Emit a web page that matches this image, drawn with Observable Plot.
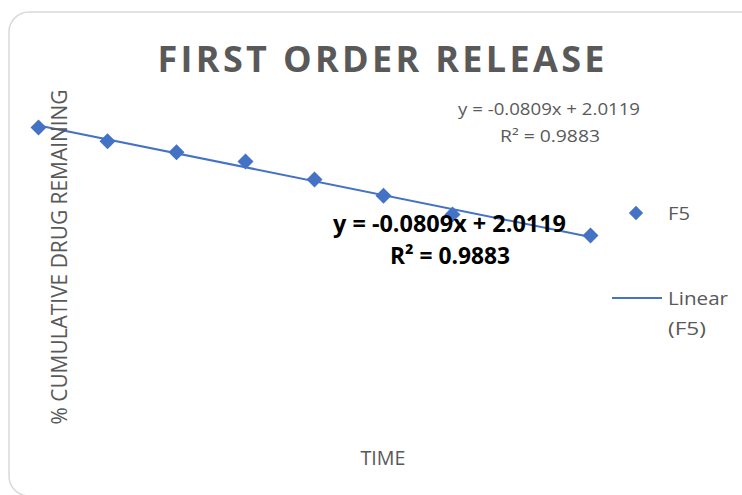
<!DOCTYPE html>
<html>
<head>
<meta charset="utf-8">
<script src="https://cdn.jsdelivr.net/npm/d3@7"></script>
<script src="https://cdn.jsdelivr.net/npm/@observablehq/plot@0.6"></script>
<style>
  html, body { margin: 0; padding: 0; background: #fff; }
  #chart { width: 742px; height: 495px; overflow: hidden; }
</style>
</head>
<body>
<div id="chart"></div>
<script>
// ---- data ----
const times = [0, 1, 2, 3, 4, 5, 6, 8];
const logRemaining = [2.0, 1.92, 1.855, 1.80, 1.695, 1.60, 1.49, 1.367];
const seriesName = "F5";
const trendName = "Linear (F5)";
const title = "FIRST ORDER RELEASE";
const xLabel = "TIME";
const yLabel = "% CUMULATIVE DRUG REMAINING";
const equationText = "y = -0.0809x + 2.0119";
const r2Text = "R² = 0.9883";

const data = times.map((t, i) => ({time: t, value: logRemaining[i]}));
const blue = "#4472C4";
const gray = "#595959";
const font = "'Open Sans', sans-serif";

const svg = Plot.plot({
  width: 742,
  height: 495,
  margin: 0,
  style: {background: "transparent", fontFamily: font},
  x: {domain: [0, 8], range: [38, 590], axis: null},
  y: {domain: [2.0119, 1.3647], range: [124.95, 235.4], axis: null},
  marks: [
    Plot.dot(data, {x: "time", y: "value", symbol: "diamond2", fill: blue, stroke: "none", r: 7.2}),
    Plot.linearRegressionY(data, {x: "time", y: "value", ci: 0, stroke: blue, strokeWidth: 2})
  ]
});

const s = d3.select(svg);
// chart border
s.insert("rect", ":first-child")
  .attr("x", 9).attr("y", 12).attr("width", 760).attr("height", 484)
  .attr("rx", 20).attr("fill", "#fff").attr("stroke", "#d9d9d9").attr("stroke-width", 1.5);

function txt(str, x, y, opts = {}) {
  const t = s.append("text")
    .attr("x", x).attr("y", y)
    .attr("text-anchor", opts.anchor || "middle")
    .attr("font-family", font)
    .attr("font-size", opts.size || 16)
    .attr("font-weight", opts.weight || "normal")
    .attr("fill", opts.fill || gray)
    .text(str);
  if (opts.len) t.attr("textLength", opts.len).attr("lengthAdjust", opts.adjust || "spacingAndGlyphs");
  if (opts.rotate) t.attr("transform", `rotate(${opts.rotate},${x},${y})`);
  return t;
}

// title
txt(title, 381, 72, {size: 36, weight: "bold", len: 447, adjust: "spacing"});
// axis titles
txt(yLabel, 67, 257, {size: 21, rotate: -90, len: 335});
txt(xLabel, 383, 465, {size: 20, len: 45});
// small trendline label (top right)
txt(equationText, 549, 115, {size: 16, len: 182});
txt(r2Text, 550, 142, {size: 16, len: 100});
// big trendline label
txt(equationText, 449.5, 232, {size: 23, weight: "bold", fill: "#000", len: 233});
txt(r2Text, 450, 264, {size: 23, weight: "bold", fill: "#000", len: 120});

// legend
const lg = d3.symbol(d3.symbolDiamond2, 130)();
s.append("path").attr("d", lg).attr("transform", "translate(636,213)").attr("fill", blue);
txt(seriesName, 668, 220, {size: 18, anchor: "start", len: 22});
s.append("line").attr("x1", 612).attr("x2", 662).attr("y1", 298).attr("y2", 298)
  .attr("stroke", blue).attr("stroke-width", 2);
const parts = trendName.split(" ");
txt(parts[0], 668, 305, {size: 18, anchor: "start", len: 60});
txt(parts[1], 668, 335, {size: 18, anchor: "start", len: 38});

document.getElementById("chart").appendChild(svg);
</script>
</body>
</html>
